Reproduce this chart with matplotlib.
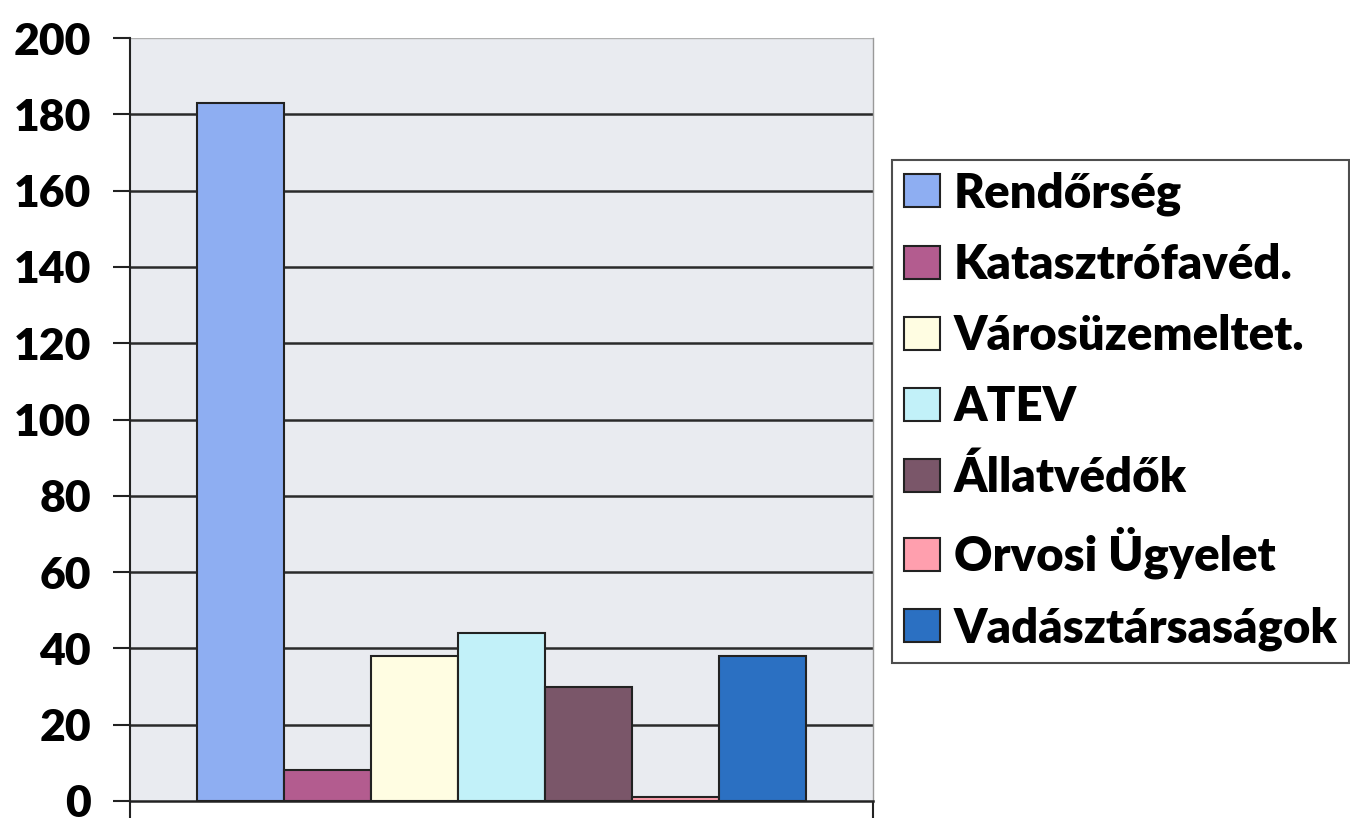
import matplotlib.pyplot as plt
import numpy as np

labels = ['Rendőrség', 'Katasztrófavéd.', 'Városüzemeltet.', 'ATEV',
          'Állatvédők', 'Orvosi Ügyelet', 'Vadásztársaságok']
values = [183, 8, 38, 44, 30, 1, 38]
colors = ['#8eaef2', '#b35c8f', '#fffde2', '#c2f1f9',
          '#7a5669', '#ff9fae', '#2b70c2']
yticks = list(range(0, 201, 20))

plt.rcParams['font.family'] = ['Lato', 'DejaVu Sans']

fig = plt.figure(figsize=(13.5, 8.18), dpi=100)
ax = fig.add_axes([0.0963, 0.0208, 0.5504, 0.9327])
ax.set_facecolor('#e9ebf0')

n = len(values)
w = 0.82 / n
xs = 0.09 + w / 2 + np.arange(n) * w
for x, v, c, lab in zip(xs, values, colors, labels):
    ax.bar(x, v, width=w, color=c, edgecolor='#222222', linewidth=1.5,
           label=lab, zorder=3)

ax.set_xlim(0, 1)
ax.set_ylim(0, 200)
ax.set_yticks(yticks)
ax.set_yticklabels([str(t) for t in yticks], fontsize=32, fontweight='heavy')
ax.set_xticks([0, 1])
ax.set_xticklabels([])
ax.tick_params(axis='y', length=12, width=1.5, color='#222222', pad=16)
ax.tick_params(axis='x', length=12, width=1.5, color='#222222')

for t in yticks[1:-1]:
    ax.axhline(t, color='#2a2a2a', linewidth=1.8, zorder=1)
ax.axhline(200, color='#b0b0b0', linewidth=1.0, zorder=1)

ax.spines['left'].set_color('#222222')
ax.spines['left'].set_linewidth(1.5)
ax.spines['bottom'].set_color('#222222')
ax.spines['bottom'].set_linewidth(1.8)
ax.spines['right'].set_color('#999999')
ax.spines['right'].set_linewidth(1.0)
ax.spines['top'].set_visible(False)

leg = fig.legend(loc='upper left', bbox_to_anchor=(0.661, 0.805),
                 prop={'size': 34, 'weight': 'heavy'}, frameon=True,
                 fancybox=False, edgecolor='#222222', handlelength=0.75,
                 handleheight=0.7, handletextpad=0.3, labelspacing=0.57,
                 borderpad=0.25, borderaxespad=0)
leg.get_frame().set_linewidth(1.5)

plt.savefig('out.png', dpi=100)
